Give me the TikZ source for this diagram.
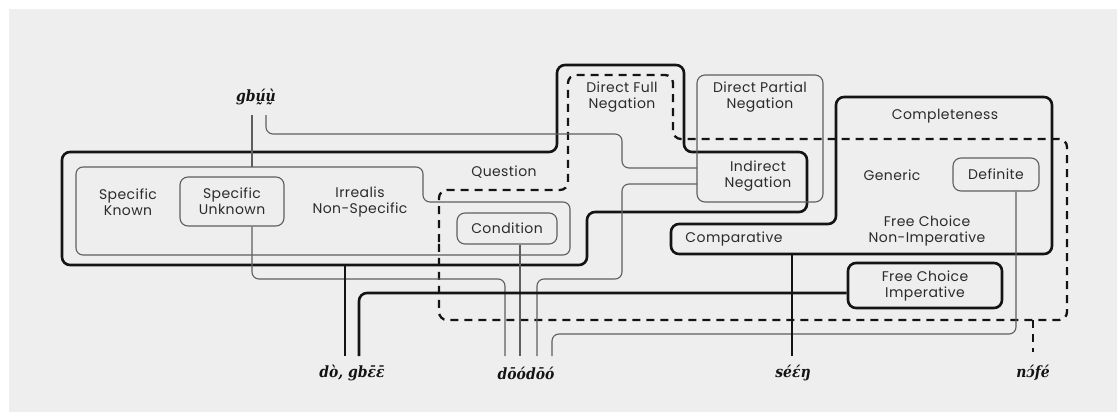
\documentclass[tikz,border=0pt]{standalone}
\usepackage{fontspec}
\setmainfont{Poppins}[LetterSpace=3]
\newfontfamily\lexfont{DejaVu Serif Condensed}
\definecolor{paper}{HTML}{EEEEEE}
\definecolor{ink}{HTML}{141414}
\definecolor{fine}{HTML}{5E5E5E}
\definecolor{txt}{HTML}{2B2B2B}
\begin{document}
\begin{tikzpicture}[x=1pt,y=-1pt,
  heavy/.style={draw=ink,line width=2.6pt,rounded corners=8pt},
  light/.style={draw=fine,line width=1.1pt,rounded corners=7pt},
  dashline/.style={draw=ink,line width=2.3pt,dash pattern=on 8pt off 6pt,rounded corners=8pt},
  lbl/.style={font=\fontsize{14}{16}\selectfont,text=txt,align=center,inner sep=0pt},
  word/.style={font=\lexfont\bfseries\itshape\fontsize{15.5}{18}\selectfont,text=ink,inner sep=0pt},
  lightbox/.style={light,lbl,rounded corners=8pt},
  heavybox/.style={heavy,lbl,rounded corners=8pt}]
\useasboundingbox (0,0) rectangle (1117,412);
\fill[white] (0,0) rectangle (1117,412);
\fill[paper] (9,9) rectangle (1117,412);

% grouping outlines
\path[heavy] (62,208) -- (62,152) -- (557,152) -- (557,65) -- (684,65) -- (684,152)
  -- (807,152) -- (807,212) -- (587,212) -- (587,265) -- (62,265) -- cycle;
\path[light] (76,210) -- (76,167) -- (423,167) -- (423,202) -- (570,202) -- (570,255)
  -- (76,255) -- cycle;
\path[dashline] (439,250) -- (439,190) -- (568,190) -- (568,75) -- (673,75) -- (673,139)
  -- (1067,139) -- (1067,320) -- (439,320) -- cycle;
\path[heavy] (944,97) -- (1052,97) -- (1052,254) -- (671,254) -- (671,224) -- (836,224)
  -- (836,97) -- cycle;
\path[light,rounded corners=8pt] (697,75) rectangle (823,202);

% category labels
\node[lbl] (sk) at (128,202) {Specific\\Known};
\node[lightbox,minimum width=104pt,minimum height=49pt] (su) at (232,201.5) {Specific\\Unknown};
\node[lbl] (irr) at (360,202) {Irrealis\\Non-Specific};
\node[lbl] (q) at (504,172) {Question};
\node[lightbox,minimum width=100pt,minimum height=31pt] (cond) at (507,228.5) {Condition};
\node[lbl] (dfn) at (622,97) {Direct Full\\Negation};
\node[lbl] (dpn) at (760,97) {Direct Partial\\Negation};
\node[lbl] (ind) at (758,176) {Indirect\\Negation};
\node[lbl] (compl) at (945,116) {Completeness};
\node[lbl] (gen) at (892,175) {Generic};
\node[lightbox,minimum width=86pt,minimum height=33pt] (def) at (996,174.5) {Definite};
\node[lbl] (fcn) at (927,231) {Free Choice\\Non-Imperative};
\node[lbl] (cmp) at (734,239) {Comparative};
\node[heavybox,minimum width=154pt,minimum height=45pt] (fci) at (925,285.5) {Free Choice\\Imperative};

% lexical items
\node[word] (gbuu) at (256,97) {gbṵ́ṵ̀};
\node[word] (do) at (352,373) {dò, gbɛ̄ɛ̄};
\node[word] (dodo) at (526,373) {dōódōó};
\node[word] (seen) at (793,373) {séɛ́ŋ};
\node[word] (nofe) at (1033,373) {nɔ́fé};

% connectors
\draw[light] (252,115) -- (252,167);
\draw[light] (266,115) -- (266,134) -- (622,134) -- (622,168) -- (697,168);
\draw[light] (su.south -| 252,0) -- (252,279) -- (505,279) -- (505,356);
\draw[light] (cond.south -| 520,0) -- (520,356);
\draw[light] (697,184) -- (622,184) -- (622,279) -- (537,279) -- (537,356);
\draw[light] (def.south -| 1016,0) -- (1016,334) -- (552,334) -- (552,356);
\draw[heavy] (345,265) -- (345,356);
\draw[heavy] (fci.west |- 0,293) -- (359,293) -- (359,356);
\draw[heavy] (792,254) -- (792,356);
\draw[dashline] (1033,320) -- (1033,352);
\end{tikzpicture}
\end{document}
